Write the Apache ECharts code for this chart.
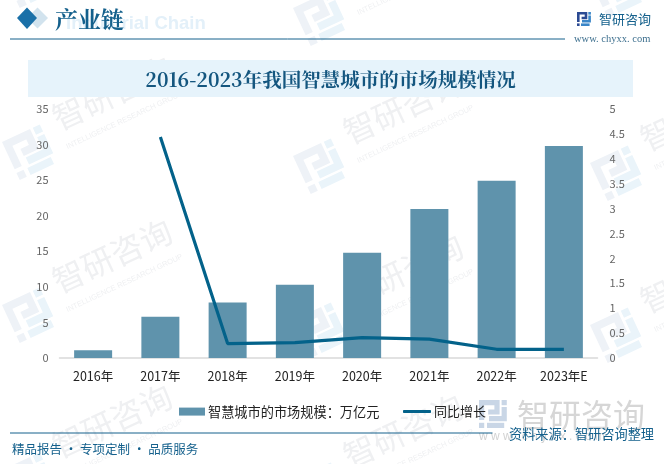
<!DOCTYPE html>
<html>
<head>
<meta charset="utf-8">
<style>
  html, body { margin: 0; padding: 0; background: #fff; }
  #chart { width: 664px; height: 464px; }
</style>
<script src="https://cdn.jsdelivr.net/npm/echarts@6/dist/echarts.min.js"></script>
</head>
<body>
<div id="chart"></div>
<script>
const categories = ['2016年', '2017年', '2018年', '2019年', '2020年', '2021年', '2022年', '2023年E'];
const marketSize = [1.1, 5.8, 7.8, 10.3, 14.8, 20.95, 24.9, 29.8];
const growth = [null, 4.44, 0.29, 0.31, 0.41, 0.38, 0.175, 0.175];

const SANS = '"Noto Sans CJK SC", sans-serif';
const SERIF = '"Noto Serif CJK SC", "Noto Sans CJK SC", serif';
const DARK = '#14608c';
const BAR_NAME = '智慧城市的市场规模：万亿元';
const LINE_NAME = '同比增长';

// the company logo, in a 14x14 box
function logo(x, y, scale, rotation, main, accent, z) {
  const stroke = (points, color) => ({
    type: 'polyline',
    z: z,
    shape: { points: points },
    style: { stroke: color, lineWidth: 2.6, fill: null }
  });
  const dot = (dx, dy, color) => ({
    type: 'rect',
    z: z,
    shape: { x: dx, y: dy, width: 2.6, height: 2.6 },
    style: { fill: color }
  });
  return {
    type: 'group',
    x: x, y: y,
    scaleX: scale, scaleY: scale,
    rotation: rotation,
    z: z,
    children: [
      stroke([[1.3, 10], [1.3, 1.3], [9, 1.3], [9, 6], [4.6, 6]], main),
      stroke([[12.6, 3.5], [12.6, 9.3], [5, 9.3]], accent),
      stroke([[4, 12.7], [12.6, 12.7]], accent),
      dot(11.3, 0, accent),
      dot(0, 11.4, main)
    ]
  };
}

// faint repeated watermark: [logo x, logo y]
const wmSpots = [[2, -30], [2, 142], [2, 305], [2, 470], [293, 8], [293, 156], [293, 320], [293, 480], [590, -20], [590, 163], [590, 325]];
const TILT = 25 * Math.PI / 180;
const watermarks = [];
wmSpots.forEach(p => {
  watermarks.push(logo(p[0], p[1], 3, TILT, '#eef2f7', '#eaf4fa', -1));
  watermarks.push({
    type: 'group', x: p[0] + 52, y: p[1] - 22, rotation: TILT, z: -1,
    children: [
      { type: 'text', z: -1, x: 0, y: 0, style: { text: '智研咨询', font: '32px ' + SANS, fill: '#eff0f2', textVerticalAlign: 'middle' } },
      { type: 'text', z: -1, x: 0, y: 30, style: { text: 'INTELLIGENCE RESEARCH GROUP', font: '7.5px "Liberation Sans", sans-serif', fill: '#eff0f2', textVerticalAlign: 'middle' } }
    ]
  });
});

const chart = echarts.init(document.getElementById('chart'), null, { renderer: 'canvas' });
chart.setOption({
  animation: false,
  backgroundColor: '#fff',
  textStyle: { fontFamily: SANS },
  grid: { left: 59.5, right: 66.5, top: 109, bottom: 106 },
  legend: [
    {
      data: [BAR_NAME],
      top: 400,
      left: 174,
      icon: 'rect',
      itemWidth: 26,
      itemHeight: 8,
      textStyle: { fontSize: 13.2, color: '#222', fontFamily: SANS, padding: [0, 0, 0, -2] }
    },
    {
      data: [LINE_NAME],
      top: 400,
      left: 398,
      icon: 'roundRect',
      itemWidth: 28,
      itemHeight: 3,
      itemStyle: { borderRadius: 1.5 },
      textStyle: { fontSize: 13, color: '#222', fontFamily: SANS, padding: [0, 0, 0, -2] }
    }
  ],
  xAxis: {
    type: 'category',
    data: categories,
    axisTick: { show: false },
    axisLine: { lineStyle: { color: '#d9d9d9', width: 1.5 } },
    axisLabel: { fontSize: 12.5, color: '#222', margin: 12, interval: 0 }
  },
  yAxis: [
    {
      type: 'value', min: 0, max: 35, interval: 5,
      axisLabel: { fontSize: 11, color: '#666', margin: 11 },
      axisLine: { show: false }, axisTick: { show: false }, splitLine: { show: false }
    },
    {
      type: 'value', min: 0, max: 5, interval: 0.5,
      axisLabel: { fontSize: 11, color: '#666', margin: 12 },
      axisLine: { show: false }, axisTick: { show: false }, splitLine: { show: false }
    }
  ],
  series: [
    {
      name: BAR_NAME,
      type: 'bar',
      data: marketSize,
      barWidth: 38,
      itemStyle: { color: '#5f93ac' }
    },
    {
      name: LINE_NAME,
      type: 'line',
      yAxisIndex: 1,
      data: growth,
      symbol: 'none',
      lineStyle: { color: '#03628a', width: 3.2 },
      itemStyle: { color: '#03628a' }
    }
  ],
  graphic: watermarks.concat([
    { type: 'rect', shape: { x: 28, y: 60, width: 605, height: 37 }, style: { fill: '#e6f3fb' } },
    { type: 'text', x: 330.5, y: 80, style: { text: '2016-2023年我国智慧城市的市场规模情况', font: 'bold 19.5px ' + SERIF, fill: '#14567f', textAlign: 'center', textVerticalAlign: 'middle' } },
    { type: 'polygon', shape: { points: [[27, 18], [37.5, 7.5], [48, 18], [37.5, 28.5]] }, style: { fill: '#d2e3ee' } },
    { type: 'polygon', shape: { points: [[17, 18], [27, 7.5], [37, 18], [27, 29]] }, style: { fill: '#1a70a8' } },
    { type: 'text', x: 66, y: 24, style: { text: 'Industrial Chain', font: 'bold 18.5px "Liberation Sans", sans-serif', fill: '#e3f0f9', textVerticalAlign: 'middle' } },
    { type: 'text', x: 55, y: 19, style: { text: '产业链', font: 'bold 23px ' + SERIF, fill: '#14608c', textVerticalAlign: 'middle' } },
    { type: 'line', shape: { x1: 10, y1: 39, x2: 565, y2: 39 }, style: { stroke: DARK, lineWidth: 1 } },
    { type: 'text', x: 599, y: 19, style: { text: '智研咨询', font: '13px ' + SANS, fill: '#14608c', textVerticalAlign: 'middle' } },
    { type: 'text', x: 574, y: 39, style: { text: 'www. chyxx. com', font: '10.5px "Liberation Serif", serif', fill: '#3d6f8e', textVerticalAlign: 'middle' } },
    logo(577, 12, 1, 0, '#2b4a93', '#3a86c8', 1),
    logo(479, 400, 2, 0, '#c9d6e6', '#c9d6e6', 1),
    { type: 'text', x: 517, y: 415, style: { text: '智研咨询', font: '32px ' + SANS, fill: '#d6d6d6', textVerticalAlign: 'middle' } },
    { type: 'text', x: 479, y: 437, style: { text: 'w w w . c h y x x . c o m', font: '12px "Liberation Sans", sans-serif', fill: '#d2d2d2', textVerticalAlign: 'middle' } },
    { type: 'line', shape: { x1: 10, y1: 433, x2: 492.5, y2: 433 }, style: { stroke: DARK, lineWidth: 1 } },
    { type: 'text', x: 12, y: 449, style: { text: '精品报告 · 专项定制 · 品质服务', font: '12.5px ' + SANS, fill: '#14608c', textVerticalAlign: 'middle' } },
    { type: 'text', x: 509, y: 434, style: { text: '资料来源：智研咨询整理', font: '13.2px ' + SANS, fill: '#14608c', textVerticalAlign: 'middle' } }
  ])
});
</script>
</body>
</html>
